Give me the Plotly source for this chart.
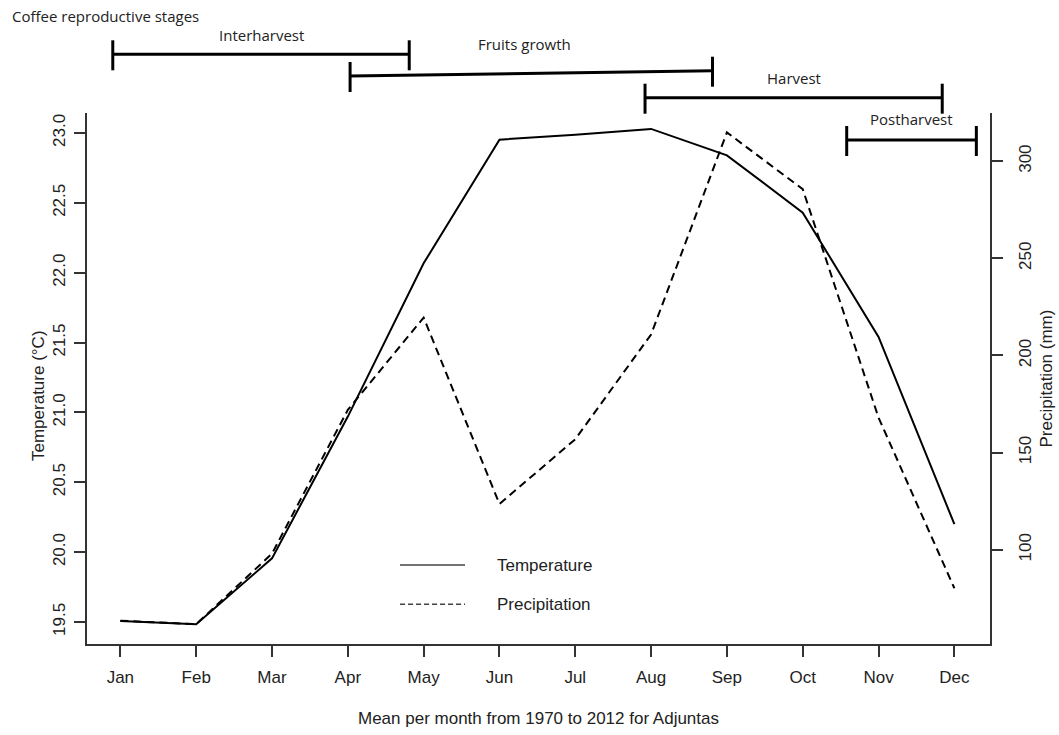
import plotly.graph_objects as go

# ---------------- data ----------------
months = ["Jan", "Feb", "Mar", "Apr", "May", "Jun", "Jul", "Aug", "Sep", "Oct", "Nov", "Dec"]
month_num = list(range(1, 13))
temperature = [19.507, 19.484, 19.955, 20.97, 22.067, 22.952, 22.988, 23.029, 22.84, 22.43, 21.54, 20.20]
precipitation = [63.5, 61.7, 98.0, 172.0, 219.5, 123.6, 156.9, 210.8, 314.8, 285.6, 168.0, 80.2]

temp_ticks = [19.5, 20.0, 20.5, 21.0, 21.5, 22.0, 22.5, 23.0]
precip_ticks = [100, 150, 200, 250, 300]

stage_names = ["Interharvest", "Fruits growth", "Harvest", "Postharvest"]
stage_start = [0.90, 4.03, 7.92, 10.58]   # month units
stage_end = [4.81, 8.81, 11.84, 12.29]
stage_label_x = [2.86, 6.33, 9.88, 11.43]

# ---------------- layout geometry (pixels -> paper) ----------------
W, H = 1059, 735
L, R, T, B = 87, 69, 113, 91
PH = H - T - B


def py(px):
    return (H - B - px) / PH


stage_bar_y_left = [py(54.3), py(76.0), py(97.7), py(140.0)]
stage_bar_y_right = [py(54.3), py(70.7), py(97.7), py(140.0)]
stage_label_y = [py(35), py(44), py(77.7), py(119)]

ink = "#222222"
axis_col = "#333333"
font_main = "Liberation Sans, Arial, sans-serif"
font_stage = "Open Sans, sans-serif"

fig = go.Figure()
fig.add_trace(go.Scatter(x=month_num, y=temperature, mode="lines", name="Temperature",
                         line=dict(color="black", width=2), yaxis="y", showlegend=False))
fig.add_trace(go.Scatter(x=month_num, y=precipitation, mode="lines", name="Precipitation",
                         line=dict(color="black", width=2, dash="8px,5px"), yaxis="y2",
                         showlegend=False))

shapes = []
annotations = []
tick_up, tick_dn = 14 / PH, 16 / PH
for name, x0, x1, y0, y1, lx, ly in zip(stage_names, stage_start, stage_end,
                                        stage_bar_y_left, stage_bar_y_right,
                                        stage_label_x, stage_label_y):
    shapes.append(dict(type="line", xref="x", yref="paper", x0=x0, x1=x1, y0=y0, y1=y1,
                       line=dict(color="black", width=3)))
    shapes.append(dict(type="line", xref="x", yref="paper", x0=x0, x1=x0,
                       y0=y0 - tick_dn, y1=y0 + tick_up, line=dict(color="black", width=3)))
    shapes.append(dict(type="line", xref="x", yref="paper", x0=x1, x1=x1,
                       y0=y1 - tick_dn, y1=y1 + tick_up, line=dict(color="black", width=3)))
    annotations.append(dict(text=name, xref="x", yref="paper", x=lx, y=ly, showarrow=False,
                            xanchor="center", yanchor="middle",
                            font=dict(family=font_stage, size=15, color=ink)))

annotations.append(dict(text="Coffee reproductive stages", xref="paper", yref="paper",
                        x=0, xshift=10 - L, y=py(16), showarrow=False, xanchor="left",
                        yanchor="middle", font=dict(family=font_stage, size=15, color=ink)))

# legend (drawn manually)
lx0, lx1, ltx = (400 - L) / (W - L - R), (465 - L) / (W - L - R), (495 - L) / (W - L - R)
shapes.append(dict(type="line", xref="paper", yref="paper", x0=lx0, x1=lx1, y0=py(565), y1=py(565),
                   line=dict(color="#444444", width=1.5)))
shapes.append(dict(type="line", xref="paper", yref="paper", x0=lx0, x1=lx1, y0=py(604.3), y1=py(604.3),
                   line=dict(color="#444444", width=1.5, dash="5px,3px")))
annotations.append(dict(text="Temperature", xref="paper", yref="paper", x=ltx, y=py(565),
                        showarrow=False, xanchor="left", yanchor="middle",
                        font=dict(family=font_main, size=17, color=ink)))
annotations.append(dict(text="Precipitation", xref="paper", yref="paper", x=ltx, y=py(604.3),
                        showarrow=False, xanchor="left", yanchor="middle",
                        font=dict(family=font_main, size=17, color=ink)))

# axis titles
annotations.append(dict(text="Temperature (°C)", xref="paper", yref="paper", x=0, xshift=38 - L,
                        y=py(396), textangle=-90, showarrow=False, xanchor="center", yanchor="middle",
                        font=dict(family=font_main, size=17, color=ink)))
annotations.append(dict(text="Precipitation (mm)", xref="paper", yref="paper", x=1, xshift=1046 - (W - R),
                        y=0.5, textangle=-90, showarrow=False, xanchor="center", yanchor="middle",
                        font=dict(family=font_main, size=17, color=ink)))
annotations.append(dict(text="Mean per month from 1970 to 2012 for Adjuntas", xref="paper", yref="paper",
                        x=0.5, y=0, yshift=-(718 - (H - B)), showarrow=False, xanchor="center",
                        yanchor="middle", font=dict(family=font_main, size=17, color=ink)))

fig.update_layout(
    width=W, height=H,
    margin=dict(l=L, r=R, t=T, b=B, pad=0),
    paper_bgcolor="white", plot_bgcolor="white",
    font=dict(family=font_main, size=17, color=ink),
    xaxis=dict(range=[0.56, 12.47], tickmode="array", tickvals=month_num, ticktext=months,
               ticks="outside", ticklen=11, tickwidth=1.5, tickcolor=axis_col,
               showline=True, linecolor=axis_col, linewidth=1.5, showgrid=False, zeroline=False,
               ticklabelstandoff=6),
    yaxis=dict(range=[19.342, 23.143], tickmode="array", tickvals=temp_ticks,
               ticktext=[f"{v:.1f}" for v in temp_ticks], tickangle=-90,
               ticks="outside", ticklen=11, tickwidth=1.5, tickcolor=axis_col,
               showline=True, linecolor=axis_col, linewidth=1.5, showgrid=False, zeroline=False,
               ticklabelstandoff=2),
    yaxis2=dict(range=[51.5, 324.8], overlaying="y", side="right", tickmode="array",
                tickvals=precip_ticks, ticktext=[str(v) for v in precip_ticks], tickangle=-90,
                ticks="outside", ticklen=11, tickwidth=1.5, tickcolor=axis_col,
                showline=True, linecolor=axis_col, linewidth=1.5, showgrid=False, zeroline=False,
                ticklabelstandoff=8),
    shapes=shapes,
    annotations=annotations,
)

fig.write_html("out.html")
